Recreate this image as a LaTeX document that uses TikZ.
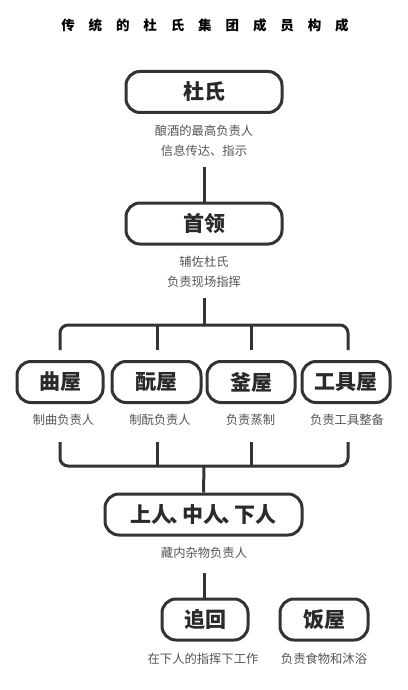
\documentclass[tikz,border=0pt]{standalone}
\usepackage{fontspec}
\setmainfont{Noto Sans CJK SC}
\definecolor{linec}{HTML}{333333}
\definecolor{boxtext}{HTML}{2A2A2A}
\definecolor{desctext}{HTML}{555555}
\newcommand{\tch}[1]{\makebox[27.4pt]{#1}}
\newcommand{\dun}{\kern-3pt、\kern-8pt}
\begin{document}
\begin{tikzpicture}[x=1pt,y=-1pt,
  box/.style={draw=linec, line width=3pt, rounded corners=14pt, minimum height=41pt,
    inner sep=0pt, text=boxtext, font=\bfseries\fontsize{21}{21}\selectfont},
  desc/.style={text=desctext, align=center, inner sep=0pt,
    font=\fontsize{12.3}{20}\selectfont},
  conn/.style={draw=linec, line width=3pt},
  bracket/.style={conn, rounded corners=8pt}]
\useasboundingbox (0,0) rectangle (407,690);
\fill[white] (0,0) rectangle (407,690);
% title
\node[font=\bfseries\fontsize{13.5}{13.5}\selectfont, text=black, inner sep=0pt] (title) at (205,25)
  {\tch{传}\tch{统}\tch{的}\tch{杜}\tch{氏}\tch{集}\tch{团}\tch{成}\tch{员}\tch{构}\tch{成}};
% top
\node[box, minimum width=156pt] (dushi) at (204,92) {杜氏};
\node[desc] (dushid) at (204,141) {酿酒的最高负责人\\信息传达、指示};
\node[box, minimum width=156pt] (shouling) at (204,223.5) {首领};
\node[desc] (shoulingd) at (204,272) {辅佐杜氏\\负责现场指挥};
\coordinate (a1) at (204,167);
\draw[conn] (a1) -- (shouling.north);
% upper bracket
\coordinate (b0) at (204,298);
\coordinate (bm) at (204,325);
\coordinate (bl) at (60,350);
\coordinate (br) at (348,350);
\coordinate (b2) at (157,350);
\coordinate (b3) at (251,350);
\draw[conn] (b0) -- (bm);
\draw[bracket] (bl) -- (60,325) -- (348,325) -- (br);
\draw[conn] (b2) -- (157,325);
\draw[conn] (b3) -- (251,325);
% row
\node[box, minimum width=86pt] (qu) at (60,382) {曲屋};
\node[box, minimum width=89pt] (moto) at (156.5,382) {酛屋};
\node[box, minimum width=88pt] (kama) at (251,382) {釜屋};
\node[box, minimum width=88pt] (dogu) at (346,382) {工具屋};
\node[desc] (qud) at (63.5,420) {制曲负责人};
\node[desc] (motod) at (160,420) {制酛负责人};
\node[desc] (kamad) at (250.5,420) {负责蒸制};
\node[desc] (dogud) at (347,420) {负责工具整备};
% lower bracket
\coordinate (l1) at (60,442);
\coordinate (l2) at (157,442);
\coordinate (l3) at (251,442);
\coordinate (l4) at (348,442);
\coordinate (lm) at (204,466);
\draw[bracket] (l1) -- (60,466) -- (348,466) -- (l4);
\draw[conn] (l2) -- (157,466);
\draw[conn] (l3) -- (251,466);
% people
\node[box, minimum width=197pt] (ren) at (203.5,514.5) {上人\dun 中人\dun 下人};
\draw[conn] (lm) -- (ren.north);
\node[desc] (rend) at (204,553) {藏内杂物负责人};
\coordinate (r1) at (204,573);
\node[box, minimum width=86pt] (oimawashi) at (205,619.5) {追回};
\node[box, minimum width=88pt] (meshi) at (324,619.5) {饭屋};
\draw[conn] (r1) -- (r1 |- oimawashi.north);
\node[desc] (oimawashid) at (203,659) {在下人的指挥下工作};
\node[desc] (meshid) at (324,659) {负责食物和沐浴};
\end{tikzpicture}
\end{document}
